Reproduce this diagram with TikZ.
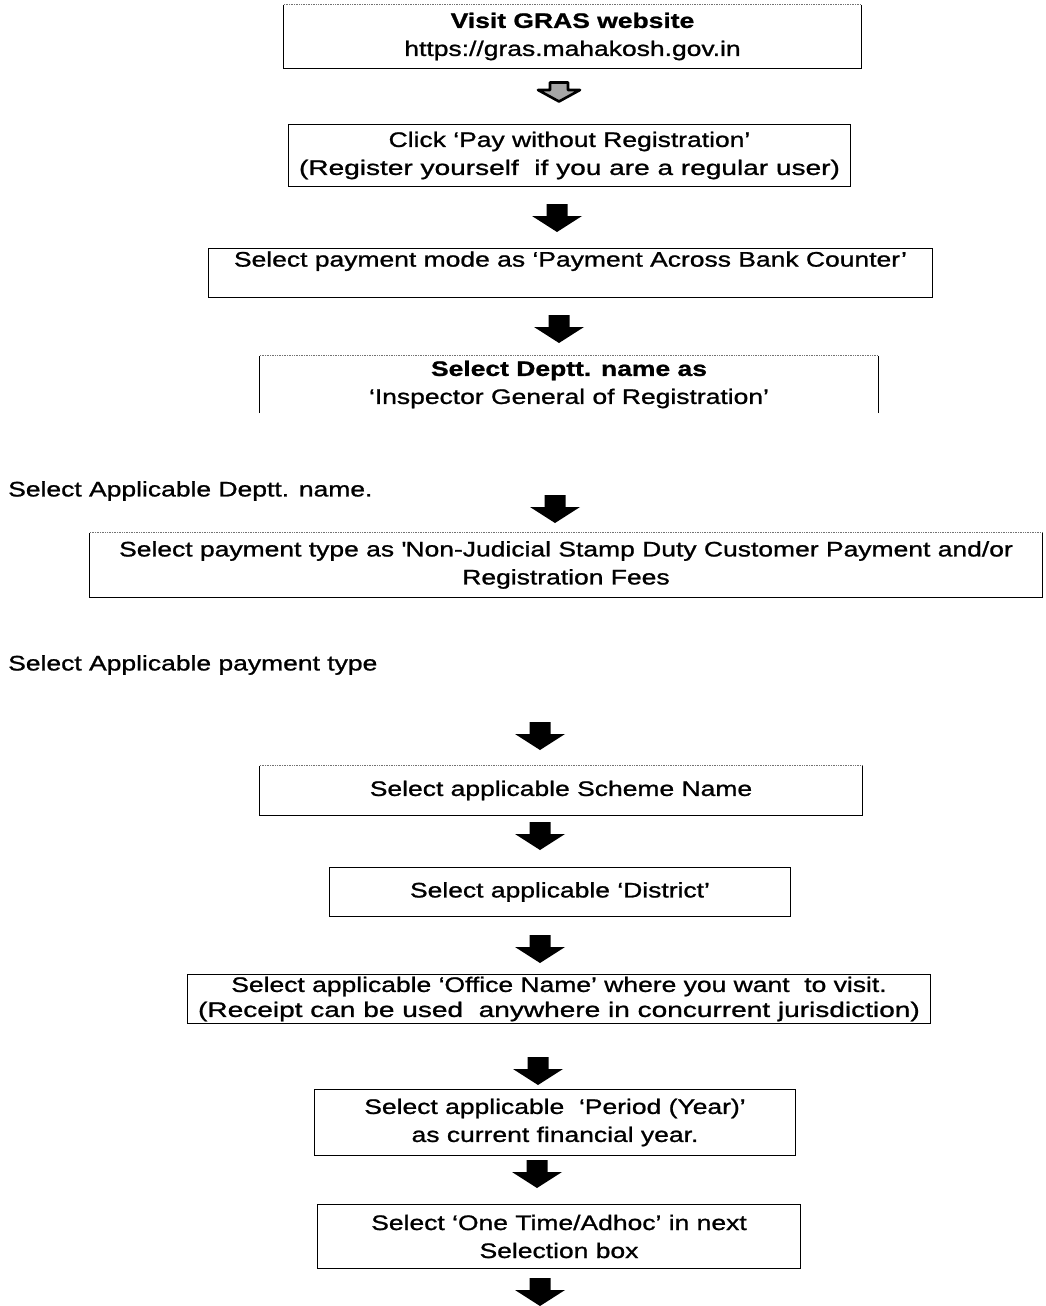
\documentclass[tikz,border=0pt]{standalone}
\usepackage{fontspec}
\setmainfont[FakeStretch=1.26, FakeBold=1.1]{Liberation Sans}
\begin{document}
\begin{tikzpicture}[x=1pt,y=-1pt,
  txt/.style={align=center, inner sep=0pt, font=\fontsize{21}{28}\selectfont},
  freetext/.style={anchor=west, inner sep=0pt, font=\fontsize{21}{28}\selectfont},
  edge/.style={draw=black, line width=0.9pt},
  faintedge/.style={draw=black!55, line width=0.7pt, densely dotted},
  blockarrow/.pic={\fill[black] (-10.5,0) -- (10.5,0) -- (10.5,12) -- (25,12) -- (0,28) -- (-25,12) -- (-10.5,12) -- cycle;},
  firstarrow/.pic={\filldraw[fill=black!35, draw=black, line width=2.6pt, line join=round] (-9,1.5) -- (9,1.5) -- (9,9) -- (21,9) -- (0,20.5) -- (-21,9) -- (-9,9) -- cycle;}
]
\useasboundingbox (0,0) rectangle (1045,1306);

% boxes (text nodes sized like the frames)
\node[txt, minimum width=577, minimum height=63] (b1) at (572.5,36.5)
  {\textbf{Visit GRAS website}\\https://gras.mahakosh.gov.in};
\node[txt, minimum width=561, minimum height=61] (b2) at (569.5,155.5)
  {Click ‘Pay without Registration’\\\scalebox{1.06}[1]{(Register yourself\ \ if you are a regular user)}};
\node[txt, minimum width=723, minimum height=48, text depth=28pt] (b3) at (570.5,273)
  {Select payment mode as ‘Payment Across Bank Counter’};
\node[txt, minimum width=618, minimum height=57] (b4) at (569,384.5)
  {\textbf{Select Deptt. name as}\\‘Inspector General of Registration’};
\node[freetext] (t1) at (8,491) {Select Applicable Deptt. name.};
\node[txt, minimum width=952, minimum height=64] (b5) at (566,565)
  {Select payment type as \textquotesingle Non-Judicial Stamp Duty Customer Payment and/or\\Registration Fees};
\node[freetext] (t2) at (8,665) {Select Applicable payment type};
\node[txt, minimum width=602, minimum height=49] (b6) at (561,790.5)
  {Select applicable Scheme Name};
\node[txt, minimum width=460, minimum height=48] (b7) at (560,892)
  {Select applicable ‘District’};
\node[txt, minimum width=742, minimum height=49, font=\fontsize{21}{25}\selectfont] (b8) at (559,999)
  {Select applicable ‘Office Name’ where you want\ \ to visit.\\\scalebox{1.06}[1]{(Receipt can be used\ \ anywhere in concurrent jurisdiction)}};
\node[txt, minimum width=480, minimum height=65] (b9) at (555,1122.5)
  {Select applicable\ \ ‘Period (Year)’\\as current financial year.};
\node[txt, minimum width=482, minimum height=63] (b10) at (559,1236.5)
  {Select ‘One Time/Adhoc’ in next\\Selection box};

% frames
\foreach \b in {b2,b3,b7,b8,b9,b10} {
  \draw[edge] (\b.north west) rectangle (\b.south east);
}
\foreach \b in {b1,b5,b6} {
  \draw[edge] (\b.north west) -- (\b.south west) -- (\b.south east) -- (\b.north east);
  \draw[faintedge] (\b.north west) -- (\b.north east);
}
\draw[edge] (b4.south west) -- (b4.north west);
\draw[edge] (b4.south east) -- (b4.north east);
\draw[faintedge] (b4.north west) -- (b4.north east);

% block arrows between the steps
\coordinate (a1) at (559,81);
\coordinate (a2) at (557,204);
\coordinate (a3) at (559,315);
\coordinate (a4) at (555,495);
\coordinate (a5) at (540,722);
\coordinate (a6) at (540,822);
\coordinate (a7) at (540,935);
\coordinate (a8) at (538,1057);
\coordinate (a9) at (537,1160);
\coordinate (a10) at (540,1278);
\pic at (a1) {firstarrow};
\foreach \a in {a2,a3,a4,a5,a6,a7,a8,a9,a10} { \pic at (\a) {blockarrow}; }
\end{tikzpicture}
\end{document}
